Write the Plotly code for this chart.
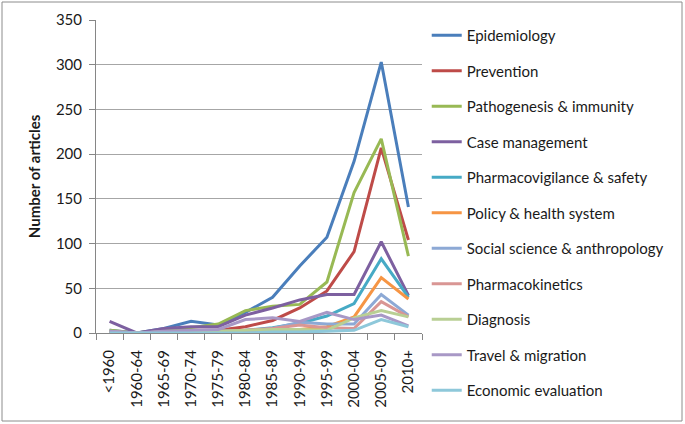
import plotly.graph_objects as go

categories = ["<1960", "1960-64", "1965-69", "1970-74", "1975-79", "1980-84",
              "1985-89", "1990-94", "1995-99", "2000-04", "2005-09", "2010+"]

epidemiology = [3, 0, 5, 13, 9, 23, 40, 75, 107, 192, 303, 141]
prevention = [1, 0, 2, 3, 3, 7, 14, 28, 47, 91, 207, 104]
pathogenesis = [3, 0, 4, 6, 10, 25, 30, 32, 57, 157, 217, 86]
case_management = [13, 0, 5, 7, 7, 20, 28, 37, 43, 43, 102, 42]
pharmacovigilance = [2, 0, 1, 2, 2, 3, 6, 11, 19, 33, 83, 40]
policy = [1, 0, 1, 1, 1, 1, 2, 4, 7, 18, 62, 38]
social_science = [1, 0, 1, 1, 1, 2, 5, 12, 10, 10, 43, 20]
pharmacokinetics = [2, 0, 1, 2, 2, 3, 5, 9, 6, 5, 35, 18]
diagnosis = [1, 0, 1, 1, 2, 3, 4, 4, 3, 17, 25, 18]
travel = [2, 0, 2, 3, 4, 15, 17, 13, 23, 15, 20, 8]
economic = [0, 0, 0, 0, 0, 0, 1, 1, 2, 3, 15, 7]

series_names = ["Epidemiology", "Prevention", "Pathogenesis & immunity", "Case management",
                "Pharmacovigilance & safety", "Policy & health system",
                "Social science & anthropology", "Pharmacokinetics", "Diagnosis",
                "Travel & migration", "Economic evaluation"]
series_values = [epidemiology, prevention, pathogenesis, case_management, pharmacovigilance,
                 policy, social_science, pharmacokinetics, diagnosis, travel, economic]
series_colors = ["#4A7EBB", "#BE4B48", "#98B954", "#7D60A0", "#46AAC5", "#F69544",
                 "#8DA9D5", "#D99694", "#B9CF94", "#A898C6", "#8EC8DA"]

FONT = "Lato"
TXT = "#1a1a1a"

fig = go.Figure()
for i, (name, vals, col) in enumerate(zip(series_names, series_values, series_colors)):
    fig.add_trace(go.Scatter(
        x=categories, y=vals, name=name, mode="lines",
        line=dict(color=col, width=3), legendgroup=f"g{i}",
    ))

fig.update_layout(
    width=685, height=424,
    margin=dict(l=96, r=263, t=20, b=91, autoexpand=False),
    paper_bgcolor="white", plot_bgcolor="white",
    font=dict(family=FONT, size=15, color=TXT),
    showlegend=True,
    legend=dict(
        x=1.0145, xanchor="left",
        y=(333 - 19) / 313, yanchor="top",
        maxheight=420,
        font=dict(family=FONT, size=15, color=TXT),
        traceorder="grouped", tracegroupgap=13,
        itemwidth=30, bgcolor="rgba(0,0,0,0)",
    ),
    xaxis=dict(
        type="category", range=[-0.5, 11.5], automargin=False,
        showline=True, linecolor="#868686", linewidth=1,
        ticks="outside", ticklen=6, tickcolor="#868686", tickson="boundaries",
        tickangle=-90, showgrid=False, zeroline=False, ticklabelstandoff=10,
        tickfont=dict(family=FONT, size=15, color=TXT),
    ),
    yaxis=dict(
        range=[0, 350], dtick=50, tick0=0, automargin=False,
        showline=True, linecolor="#868686", linewidth=1,
        ticks="outside", ticklen=6, tickcolor="#868686", ticklabelstandoff=4,
        showgrid=True, gridcolor="#A6A6A6", gridwidth=1, zeroline=False,
        tickfont=dict(family=FONT, size=15, color=TXT),
        title=dict(text="<b>Number of articles</b>", font=dict(family=FONT, size=15, color=TXT),
                   standoff=11),
    ),
)

fig.add_shape(type="rect", xref="paper", yref="paper",
              x0=(2 - 96) / 326, x1=(682 - 96) / 326,
              y0=(333 - 421) / 313, y1=(333 - 2) / 313,
              line=dict(color="#8C8C8C", width=1), fillcolor="rgba(0,0,0,0)", layer="below")

fig.write_html("out.html", config={"displayModeBar": False},
               post_script="document.body.style.margin='0';")
